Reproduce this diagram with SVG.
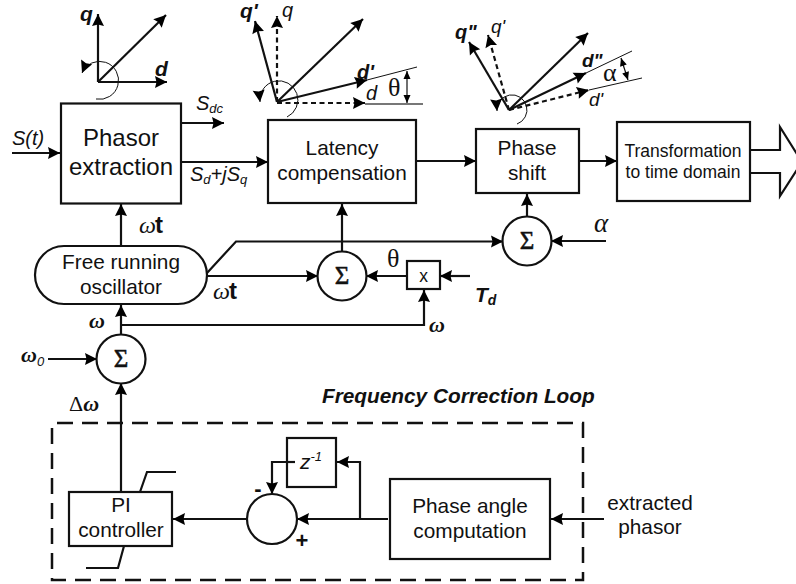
<svg xmlns="http://www.w3.org/2000/svg" width="796" height="584" viewBox="0 0 796 584">
<defs>
<marker id="ah" markerUnits="userSpaceOnUse" markerWidth="14" markerHeight="14" refX="12" refY="6" orient="auto" overflow="visible"><path d="M0,0 L12,6 L0,12 L1.500,6 Z" fill="#000"/></marker>
<marker id="ahs" markerUnits="userSpaceOnUse" markerWidth="9" markerHeight="8" refX="8" refY="3.500" orient="auto-start-reverse" overflow="visible"><path d="M0,0 L8,3.500 L0,7 Z" fill="#000"/></marker>
</defs>
<style>
text{font-family:"Liberation Sans",Arial,sans-serif;fill:#111}
.b{fill:#fff;stroke:#111;stroke-width:2.2}
.t21{font-size:20.800px;text-anchor:middle}
.t24{font-size:24px;text-anchor:middle}
.t17{font-size:17.500px;text-anchor:middle}
.w{font-family:"Liberation Serif",serif;font-style:italic}
.sr{font-family:"Liberation Serif",serif}
.sg{font-family:"Liberation Serif",serif;font-size:25px;text-anchor:middle;stroke:#111;stroke-width:.5}
.i{font-style:italic}
.bi{font-style:italic;font-weight:bold}
.l{fill:none;stroke:#111;stroke-width:2.2}
.a{fill:none;stroke:#111;stroke-width:2.2;marker-end:url(#ah)}
.d{fill:none;stroke:#111;stroke-width:2.2;stroke-dasharray:5 3.500;marker-end:url(#ah)}
.th{fill:none;stroke:#111;stroke-width:1}
.arc{fill:none;stroke:#111;stroke-width:1;marker-end:url(#ah)}
.dbl{fill:none;stroke:#111;stroke-width:1.200;marker-start:url(#ahs);marker-end:url(#ahs)}
</style>

<g id="connectors">
<path class="a" d="M12,153H60"/>
<path class="a" d="M181,123H224"/>
<path class="a" d="M181,162H268"/>
<path class="a" d="M416,161H476"/>
<path class="a" d="M579,161H617"/>
<path class="a" d="M121,246V204"/>
<path class="a" d="M121,335V305"/>
<path class="a" d="M48,359H97"/>
<path class="a" d="M121,492V383"/>
<path class="a" d="M207,273L236,241.500H503"/>
<path class="a" d="M207,276H318"/>
<path class="a" d="M342,252V204"/>
<path class="a" d="M527,217V194"/>
<path class="a" d="M606,241H551"/>
<path class="a" d="M407,276H366"/>
<path class="a" d="M470,276H440"/>
<path class="a" d="M121,325H424V290"/>
<path class="a" d="M247,519H173"/>
<path class="a" d="M388,519H297"/>
<path class="a" d="M360,519V462H337"/>
<path class="a" d="M288,462H272V494"/>
<path class="a" d="M604,519H551"/>
<path class="l" d="M750,150H780V127L802,162L780,196V173H750"/>
<path d="M57,423H583V580H52V427" fill="none" stroke="#111" stroke-width="2.500" stroke-dasharray="16 9"/>
</g>

<g id="phasor-diagram-1">
<path class="a" d="M98,82V14"/>
<path class="a" d="M98,82H167"/>
<path class="a" d="M98,82L166,15"/>
<path class="arc" d="M96,99A19,19 0 1 0 82,73"/>
<text class="bi" x="80" y="21" font-size="21">q</text>
<text class="bi" x="155" y="76" font-size="21">d</text>
</g>

<g id="phasor-diagram-2">
<path class="d" d="M277,102V16"/>
<path class="d" d="M277,103H365"/>
<path class="a" d="M277,102L363,19"/>
<path class="a" d="M277,102L367,80"/>
<path class="a" d="M277,102L255,21"/>
<path class="arc" d="M287,117A19,19 0 1 0 260,102"/>
<path class="th" d="M367,80L417,67"/>
<path d="M365,104H423" stroke="#777" stroke-width="2" fill="none"/>
<path class="dbl" d="M407,71V103"/>
<text class="bi" x="240" y="18" font-size="21">q'</text>
<text class="i" x="282" y="17" font-size="20">q</text>
<text class="bi" x="357" y="79" font-size="20">d'</text>
<text class="i" x="366" y="100" font-size="20">d</text>
<text class="sr" x="388" y="96" font-size="26">θ</text>
</g>

<g id="phasor-diagram-3">
<path class="d" d="M509,110L488,35"/>
<path class="d" d="M509,110L589,90"/>
<path class="a" d="M509,110L469,42"/>
<path class="a" d="M509,110L588,33"/>
<path class="a" d="M509,110L586,73"/>
<path class="arc" d="M517,124A15,15 0 1 0 497,111"/>
<path class="th" d="M586,73L632,51"/>
<path class="th" d="M589,90L642,78"/>
<path class="dbl" d="M621,58L628,80"/>
<text class="bi" x="455" y="39" font-size="20">q"</text>
<text class="i" x="491" y="33" font-size="19">q'</text>
<text class="bi" x="582" y="67" font-size="19">d"</text>
<text class="i" x="589" y="106" font-size="19">d'</text>
<text class="sr" x="603" y="81" font-size="26">α</text>
</g>

<g id="phasor-extraction">
<rect class="b" x="61" y="103.500" width="120" height="100"/>
<text class="t24" x="121" y="146">Phasor</text>
<text class="t24" x="121" y="175">extraction</text>
</g>
<g id="latency-compensation">
<rect class="b" x="268" y="120" width="148" height="83"/>
<text class="t21" x="342" y="155">Latency</text>
<text class="t21" x="342" y="180">compensation</text>
</g>
<g id="phase-shift">
<rect class="b" x="476" y="129" width="103" height="64"/>
<text class="t21" x="527" y="155">Phase</text>
<text class="t21" x="527" y="180">shift</text>
</g>
<g id="transformation">
<rect class="b" x="617" y="122" width="133" height="79"/>
<text class="t17" x="683" y="157">Transformation</text>
<text class="t17" x="683" y="178">to time domain</text>
</g>
<g id="oscillator">
<rect class="b" x="35" y="246" width="172" height="58" rx="29" ry="29"/>
<text class="t21" x="121" y="269">Free running</text>
<text class="t21" x="121" y="294">oscillator</text>
</g>
<g id="sum-1"><circle class="b" cx="121" cy="359" r="24.500"/><text class="sg" x="121" y="367">Σ</text></g>
<g id="sum-2"><circle class="b" cx="342" cy="276" r="24.500"/><text class="sg" x="342" y="284">Σ</text></g>
<g id="sum-3"><circle class="b" cx="527" cy="241" r="24.500"/><text class="sg" x="527" y="249">Σ</text></g>
<g id="multiplier">
<rect class="b" x="407" y="261" width="33" height="28"/>
<text class="t17" x="423.500" y="282">x</text>
</g>
<g id="pi-controller">
<rect class="b" x="69" y="492" width="103" height="54"/>
<path class="l" d="M140,492L147,472H176"/>
<path class="l" d="M124,546L118,568H86"/>
<text class="t21" x="121" y="512">PI</text>
<text class="t21" x="121" y="537">controller</text>
</g>
<g id="subtractor">
<circle class="b" cx="272" cy="519" r="25"/>
<text x="258" y="496" font-size="22" font-weight="bold" text-anchor="middle">-</text>
<text x="302" y="548" font-size="22" font-weight="bold" text-anchor="middle">+</text>
</g>
<g id="delay">
<rect class="b" x="287" y="438" width="49" height="49"/>
<path class="l" d="M288,462H295"/>
<text class="i" x="300" y="469" font-size="21">z<tspan font-size="13" dy="-8">-1</tspan></text>
</g>
<g id="phase-angle">
<rect class="b" x="390" y="479" width="160" height="80"/>
<text class="t21" x="470" y="513">Phase angle</text>
<text class="t21" x="470" y="538">computation</text>
</g>

<g id="labels">
<text class="i" x="12" y="145" font-size="20">S(t)</text>
<text class="i" x="196" y="110" font-size="20">S<tspan font-size="13" dy="3">dc</tspan></text>
<text class="i" x="190" y="181" font-size="20">S<tspan font-size="13" dy="3">d</tspan><tspan dy="-3">+jS</tspan><tspan font-size="13" dy="3">q</tspan></text>
<text x="139" y="233" font-size="24"><tspan class="w">ω</tspan><tspan font-weight="bold" dx="-1">t</tspan></text>
<text x="213" y="299" font-size="24"><tspan class="w">ω</tspan><tspan font-weight="bold" dx="-1">t</tspan></text>
<text class="w" x="89" y="328" font-size="22" font-weight="bold">ω</text>
<text x="21" y="362" font-size="22"><tspan class="w" font-weight="bold">ω</tspan><tspan class="i" font-size="13" dy="4">0</tspan></text>
<text class="sr" x="387" y="267" font-size="26">θ</text>
<text class="bi" x="475" y="302" font-size="21">T<tspan font-size="14" dy="3">d</tspan></text>
<text class="w" x="429" y="332" font-size="22" font-weight="bold">ω</text>
<text class="w" x="594" y="232" font-size="27">α</text>
<text class="sr" x="69" y="411" font-size="22">Δ<tspan class="w" font-weight="bold">ω</tspan></text>
<text class="bi" x="322" y="403" font-size="20.800">Frequency Correction Loop</text>
<text class="t21" x="650" y="510">extracted</text>
<text class="t21" x="650" y="534">phasor</text>
</g>
</svg>
